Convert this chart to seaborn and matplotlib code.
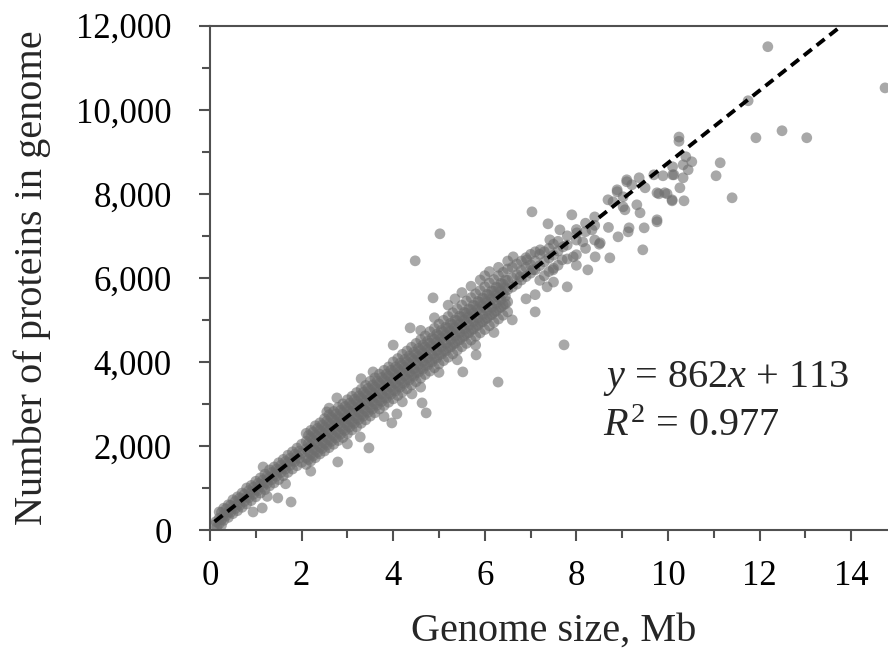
"""Scatter of protein count against genome size with the linear fit."""

import matplotlib
matplotlib.use("Agg")
import matplotlib.pyplot as plt
import matplotlib.ticker as mticker
import pandas as pd
import seaborn as sns

# Thin part of the cloud (small genomes): rows across the band
THIN_X = [0.2, 0.3, 0.4, 0.5, 0.6, 0.7, 0.8, 0.9, 1.0, 1.1, 1.2, 1.3, 1.4, 1.5,
          1.6, 1.7, 1.8, 1.9, 2.0]
THIN_HIGH = [430, 520, 600, 720, 790, 880, 1000, 1060, 1160, 1240, 1330, 1430,
             1500, 1600, 1680, 1780, 1860, 1950, 2040]
THIN_MID = [280, 360, 430, 560, 610, 740, 790, 900, 960, 1080, 1130, 1250, 1310,
            1420, 1480, 1600, 1650, 1770, 1830]
THIN_LOW = [150, 230, 300, 390, 460, 540, 620, 700, 790, 880, 960, 1050, 1120,
            1200, 1290, 1370, 1450, 1530, 1610]

THIN_X2 = [0.25, 0.35, 0.45, 0.55, 0.65, 0.75, 0.85, 0.95, 1.05, 1.15, 1.25,
           1.35, 1.45, 1.55, 1.65, 1.75, 1.85, 1.95]
THIN_UP2 = [420, 500, 590, 680, 760, 850, 940, 1020, 1110, 1190, 1280, 1370,
            1450, 1540, 1630, 1710, 1800, 1880]
THIN_DOWN2 = [250, 340, 420, 510, 590, 680, 770, 850, 940, 1020, 1110, 1200,
              1280, 1370, 1450, 1540, 1630, 1710]

# Dense part of the cloud: five rows across the band
THICK_X = [2.1, 2.2, 2.3, 2.4, 2.5, 2.6, 2.7, 2.8, 2.9, 3.0, 3.1, 3.2, 3.3, 3.4,
           3.5, 3.6, 3.7, 3.8, 3.9, 4.0, 4.1, 4.2, 4.3, 4.4, 4.5, 4.6, 4.7, 4.8,
           4.9, 5.0, 5.1, 5.2, 5.3, 5.4, 5.5, 5.6, 5.7, 5.8, 5.9, 6.0, 6.1, 6.2,
           6.3, 6.4, 6.5]
THICK_TOP = [2300, 2370, 2480, 2550, 2650, 2740, 2820, 2920, 3000, 3100, 3180,
             3270, 3350, 3440, 3540, 3620, 3710, 3800, 3880, 4000, 4080, 4180,
             4260, 4350, 4440, 4530, 4620, 4720, 4800, 4900, 4990, 5080, 5170,
             5260, 5350, 5450, 5530, 5620, 5700, 5790, 5880, 5960, 6050, 6130,
             6210]
THICK_HIGH = [2110, 2200, 2260, 2370, 2440, 2540, 2630, 2700, 2800, 2880, 2970,
              3060, 3140, 3230, 3320, 3400, 3490, 3580, 3660, 3760, 3840, 3930,
              4010, 4100, 4190, 4280, 4360, 4450, 4540, 4630, 4720, 4810, 4890,
              4980, 5070, 5160, 5240, 5330, 5420, 5500, 5590, 5680, 5760, 5850,
              5940]
THICK_MID = [1930, 2010, 2090, 2190, 2270, 2350, 2450, 2520, 2620, 2700, 2790,
             2870, 2960, 3050, 3130, 3220, 3300, 3390, 3470, 3560, 3650, 3730,
             3820, 3900, 3990, 4080, 4160, 4250, 4340, 4420, 4510, 4600, 4680,
             4770, 4850, 4940, 5030, 5110, 5200, 5290, 5370, 5460, 5540, 5630,
             5720]
THICK_LOW = [1720, 1800, 1900, 1970, 2060, 2150, 2230, 2320, 2400, 2490, 2570,
             2660, 2740, 2830, 2910, 3000, 3080, 3160, 3250, 3330, 3420, 3500,
             3590, 3670, 3750, 3840, 3920, 4000, 4090, 4170, 4260, 4340, 4420,
             4510, 4590, 4680, 4760, 4850, 4930, 5010, 5100, 5180, 5270, 5350,
             5430]
THICK_BOTTOM = [1560, 1640, 1720, 1810, 1880, 1960, 2040, 2130, 2200, 2290,
                2380, 2450, 2540, 2620, 2710, 2790, 2880, 2960, 3040, 3120,
                3200, 3280, 3360, 3450, 3530, 3610, 3700, 3780, 3860, 3950,
                4030, 4110, 4190, 4280, 4360, 4440, 4520, 4610, 4690, 4770,
                4860, 4940, 5020, 5110, 5190]

THICK_X2 = [2.15, 2.25, 2.35, 2.45, 2.55, 2.65, 2.75, 2.85, 2.95, 3.05, 3.15,
            3.25, 3.35, 3.45, 3.55, 3.65, 3.75, 3.85, 3.95, 4.05, 4.15, 4.25,
            4.35, 4.45, 4.55, 4.65, 4.75, 4.85, 4.95, 5.05, 5.15, 5.25, 5.35,
            5.45, 5.55, 5.65, 5.75, 5.85, 5.95, 6.05, 6.15, 6.25, 6.35, 6.45]
THICK_A2 = [2250, 2330, 2420, 2500, 2590, 2680, 2760, 2850, 2940, 3020, 3110,
            3190, 3280, 3370, 3450, 3540, 3630, 3710, 3800, 3880, 3970, 4060,
            4140, 4230, 4320, 4400, 4490, 4570, 4660, 4750, 4830, 4920, 5000,
            5090, 5180, 5260, 5350, 5440, 5520, 5610, 5690, 5780, 5870, 5950]
THICK_B2 = [2060, 2140, 2230, 2320, 2400, 2490, 2570, 2660, 2750, 2830, 2920,
            3000, 3090, 3180, 3260, 3350, 3440, 3520, 3610, 3690, 3780, 3870,
            3950, 4040, 4130, 4210, 4300, 4380, 4470, 4560, 4640, 4730, 4810,
            4900, 4990, 5070, 5160, 5250, 5330, 5420, 5500, 5590, 5680, 5760]
THICK_C2 = [1860, 1940, 2030, 2110, 2200, 2290, 2370, 2460, 2550, 2630, 2720,
            2800, 2890, 2980, 3060, 3150, 3240, 3320, 3410, 3490, 3580, 3670,
            3750, 3840, 3930, 4010, 4100, 4180, 4270, 4360, 4440, 4530, 4620,
            4700, 4790, 4870, 4960, 5050, 5130, 5220, 5300, 5390, 5480, 5560]
THICK_D2 = [1680, 1760, 1850, 1940, 2020, 2110, 2190, 2280, 2370, 2450, 2540,
            2630, 2710, 2800, 2880, 2970, 3060, 3140, 3230, 3310, 3400, 3490,
            3570, 3660, 3750, 3830, 3920, 4000, 4090, 4180, 4260, 4350, 4440,
            4520, 4610, 4690, 4780, 4870, 4950, 5040, 5120, 5210, 5300, 5380]

# Upper tail of the cloud
TAIL_X = [6.6, 6.7, 6.8, 6.9, 7.0, 7.1, 7.2, 7.3, 7.4, 7.5, 7.6, 7.8, 8.0, 8.2, 8.4]
TAIL_HIGH = [6250, 6330, 6400, 6480, 6560, 6620, 6560, 6620, 6700, 6800, 6870,
             7000, 7150, 7300, 7450]
TAIL_MID = [6000, 6080, 6170, 6250, 6310, 6400, 6290, 6380, 6470, 6540, 6640,
            6780, 6900, 7100, 7250]
TAIL_LOW = [5780, 5850, 5950, 6030, 6110, 6190, 5940, 6050, 6150, 6230, 6300,
            6450, 6550, 6700, 6900]

# Scattered genomes away from the core
SCATTER_X = [14.74, 12.18, 11.75, 11.92, 12.49, 13.03, 11.40, 10.24, 10.24, 11.14,
             11.05, 10.39, 10.52, 10.44, 10.13, 10.33, 9.89, 9.69, 10.26, 9.80,
             9.98, 10.09, 10.35, 9.39, 9.76, 10.33, 10.10, 9.37, 9.10, 8.89, 8.69,
             9.02, 9.32, 9.50, 9.21, 9.02, 8.80, 7.03, 7.38, 9.45, 9.76, 9.48,
             7.80, 8.73, 9.15, 9.06, 9.10, 8.89, 9.93, 10.09, 9.76, 10.10, 8.25,
             8.41, 8.14, 8.52, 8.91, 9.13, 8.34, 8.01, 7.64, 7.42, 7.71, 7.93,
             7.69, 7.21, 6.92, 6.62, 7.36, 7.05, 7.49, 6.77, 5.02, 4.48, 4.87,
             7.73, 7.10, 4.37, 6.29, 3.47, 2.79, 1.77, 1.16, 4.72, 3.97, 4.08,
             4.63, 4.41, 3.56, 2.77, 2.55, 5.52, 5.81, 3.28, 1.48, 0.94, 1.14,
             4.60, 4.90, 5.20, 5.50, 5.70, 5.90, 6.10, 6.30, 6.50, 5.35, 6.00,
             5.00, 5.40, 5.80, 6.20, 6.60, 4.60, 4.20, 3.80, 0.10, 0.15, 0.13,
             0.25, 1.25, 1.65, 2.20, 3.00, 2.60, 3.30, 4.00, 6.90, 7.10, 7.50,
             8.00, 8.50, 8.70, 7.90]
SCATTER_Y = [10520, 11500, 10214, 9333, 9500, 9333, 7905, 9350, 9250, 8738,
             8429, 8881, 8762, 8571, 8452, 8381, 8429, 8452, 8143, 8000,
             8000, 7833, 7833, 7548, 7381, 8690, 8643, 8381, 8333, 8095, 7857,
             7690, 7738, 8143, 8214, 7929, 7810, 7571, 7286, 6667, 7333, 7190,
             5786, 6476, 7190, 7619, 8286, 8048, 8024, 7857, 8024, 8452, 6190,
             6500, 6857, 6833, 6976, 7095, 7143, 7071, 7143, 6905, 6738, 6500,
             6429, 6667, 6429, 6500, 5786, 6190, 6190, 6024, 7048, 6405, 5524,
             4405, 5190, 4810, 3520, 1952, 1619, 667, 1500, 2786, 2548, 2762,
             3024, 3238, 3762, 3143, 2810, 3762, 4167, 2214, 762, 429, 524,
             4750, 5050, 5350, 5650, 5800, 5950, 6150, 6250, 6400, 5500, 6050,
             3750, 4050, 4400, 4700, 5000, 3400, 3050, 2700, 120, 70, 200,
             110, 800, 1100, 1400, 2050, 2900, 3600, 4400, 5500, 5600, 5900,
             6300, 6800, 7200, 7500]

FIT_SLOPE = 862
FIT_INTERCEPT = 113
FIT_RANGE = [0.1, 14.5]
EQUATION = r"$y$ = 862$x$ + 113"
R_SQUARED = r"$R^2$ = 0.977"


def build_frame() -> pd.DataFrame:
    parts = []
    for xs, rows in [
        (THIN_X, [THIN_HIGH, THIN_MID, THIN_LOW]),
        (THIN_X2, [THIN_UP2, THIN_DOWN2]),
        (THICK_X, [THICK_TOP, THICK_HIGH, THICK_MID, THICK_LOW, THICK_BOTTOM]),
        (THICK_X2, [THICK_A2, THICK_B2, THICK_C2, THICK_D2]),
        (TAIL_X, [TAIL_HIGH, TAIL_MID, TAIL_LOW]),
    ]:
        for ys in rows:
            parts.append(pd.DataFrame({"genome_mb": xs, "proteins": ys}))
    parts.append(pd.DataFrame({"genome_mb": SCATTER_X, "proteins": SCATTER_Y}))
    return pd.concat(parts, ignore_index=True)


def main() -> None:
    sns.set_theme(style="ticks")
    plt.rcParams["font.family"] = ["Liberation Serif", "DejaVu Serif"]
    plt.rcParams["mathtext.fontset"] = "custom"
    plt.rcParams["mathtext.rm"] = "Liberation Serif"
    plt.rcParams["mathtext.it"] = "Liberation Serif:italic"

    data = build_frame()
    fig = plt.figure(figsize=(8.88, 6.52), dpi=100)
    ax = fig.add_axes([0.2365, 0.1871, 0.7736, 0.7735])

    sns.scatterplot(data=data, x="genome_mb", y="proteins", color="#6e6e6e",
                    alpha=0.6, s=60, edgecolor="none", linewidth=0, ax=ax)

    fit_y = [FIT_SLOPE * v + FIT_INTERCEPT for v in FIT_RANGE]
    ax.plot(FIT_RANGE, fit_y, color="black", lw=2.8, dashes=(2.6, 1.6))

    ax.set_xlim(0, 15)
    ax.set_ylim(0, 12000)
    ax.xaxis.set_major_locator(mticker.MultipleLocator(2))
    ax.xaxis.set_minor_locator(mticker.MultipleLocator(1))
    ax.yaxis.set_major_locator(mticker.MultipleLocator(2000))
    ax.yaxis.set_minor_locator(mticker.MultipleLocator(1000))
    ax.yaxis.set_major_formatter(mticker.StrMethodFormatter("{x:,.0f}"))

    for side in ["left", "bottom", "top"]:
        ax.spines[side].set_color("#505050")
        ax.spines[side].set_linewidth(1.5)
    ax.spines["right"].set_visible(False)

    ax.tick_params(which="major", length=7.7, width=1.5, color="#505050",
                   labelsize=25, labelcolor="black")
    ax.tick_params(which="minor", length=5.8, width=1.5, color="#505050")
    ax.tick_params(axis="y", which="major", pad=20)
    ax.tick_params(axis="x", which="major", pad=14)

    ax.set_xlabel("Genome size, Mb", fontsize=29, labelpad=14)
    ax.set_ylabel("Number of proteins in genome", fontsize=29, labelpad=18)

    ax.text(8.58, 3600, EQUATION, fontsize=29, ha="left", va="center")
    ax.text(8.58, 2470, R_SQUARED, fontsize=29, ha="left", va="center")

    fig.savefig("out.png", dpi=100)
    plt.close(fig)


if __name__ == "__main__":
    main()
